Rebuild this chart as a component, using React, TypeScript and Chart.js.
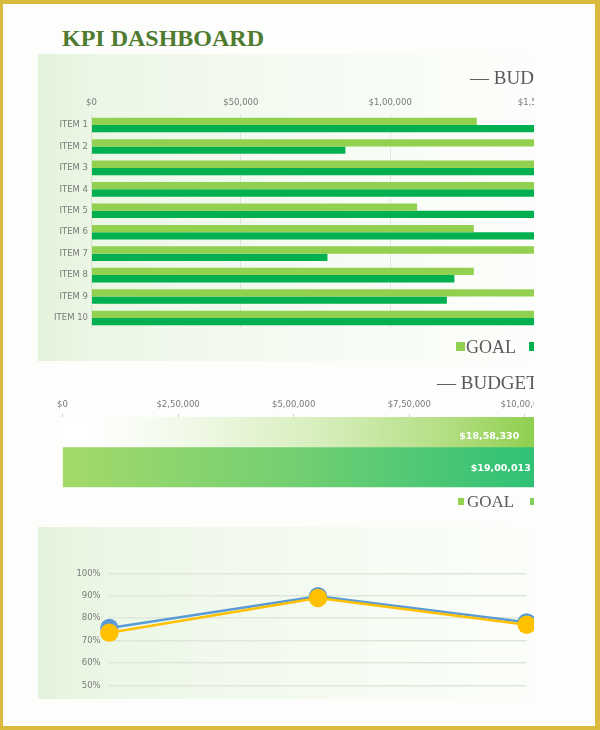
import React, { useEffect, useRef } from "react";
import { Chart, registerables } from "chart.js";

Chart.register(...registerables);

// ---------- DATA ----------
const itemLabels = ["ITEM 1", "ITEM 2", "ITEM 3", "ITEM 4", "ITEM 5", "ITEM 6", "ITEM 7", "ITEM 8", "ITEM 9", "ITEM 10"];
const itemGoal = [129000, 158000, 165000, 172000, 109000, 128000, 160000, 128000, 168000, 175000];
const itemActual = [170000, 85000, 168000, 180000, 162000, 166000, 79000, 121500, 119000, 178000];
const itemTicks = [0, 50000, 100000, 150000];

const budgetLabels = ["BUDGET"];
const budgetGoal = [1858330];
const budgetActual = [1900013];
const budgetTicks = [0, 250000, 500000, 750000, 1000000];

const trendLabels = ["Q1", "Q2", "Q3"];
const trendGoal = [75.6, 89.8, 78.1];
const trendActual = [73.5, 89.0, 77.0];
const trendTicks = [50, 60, 70, 80, 90, 100];

// ---------- HELPERS ----------
function inr(n: number): string {
  const s = Math.round(n).toString();
  if (s.length <= 3) return s;
  const last3 = s.slice(-3);
  const rest = s.slice(0, -3).replace(/\B(?=(\d{2})+(?!\d))/g, ",");
  return rest + "," + last3;
}

const tickFont = { family: "DejaVu Sans", size: 8.5 };
const tickColor = "#7a7a7a";

function ChartCanvas({ make, width, height }: { make: () => any; width: number; height: number }) {
  const ref = useRef<HTMLCanvasElement | null>(null);
  useEffect(() => {
    const chart = new Chart(ref.current as HTMLCanvasElement, make());
    return () => chart.destroy();
  }, []);
  return (
    <canvas
      ref={ref}
      width={width}
      height={height}
      style={{ position: "absolute", left: 0, top: 0, width, height }}
    />
  );
}

// ---------- CHART 1 ----------
function makeItems() {
  return {
    type: "bar",
    data: {
      labels: itemLabels,
      datasets: [
        { label: "GOAL", data: itemGoal, backgroundColor: "#92d050", categoryPercentage: 0.68, barPercentage: 1 },
        { label: "ACTUAL", data: itemActual, backgroundColor: "#00b050", categoryPercentage: 0.68, barPercentage: 1 },
      ],
    },
    options: {
      indexAxis: "y",
      responsive: false,
      animation: false,
      layout: { padding: { left: 0, right: 58.5, top: 0, bottom: 32.3 } },
      plugins: { legend: { display: false }, tooltip: { enabled: false } },
      scales: {
        x: {
          position: "top",
          min: 0,
          max: 150000,
          afterBuildTicks: (s: any) => {
            s.ticks = itemTicks.map((v) => ({ value: v }));
          },
          afterFit: (s: any) => {
            s.height = 60.3;
          },
          grid: { color: "rgba(0,0,0,0.08)", drawTicks: false },
          border: { display: false },
          ticks: { padding: 6.5, font: tickFont, color: tickColor, callback: (v: any) => "$" + inr(Number(v)) },
        },
        y: {
          afterFit: (s: any) => {
            s.width = 53.5;
          },
          grid: { display: false, drawTicks: false },
          border: { display: false },
          ticks: { padding: 3.5, font: { family: "DejaVu Sans", size: 8.5 }, color: tickColor },
        },
      },
    },
  };
}

// ---------- CHART 2 ----------
const budgetLabelPlugin = {
  id: "budgetLabels",
  afterDatasetsDraw(chart: any) {
    const { ctx, chartArea } = chart;
    const insets = [14.8, 3.3];
    const dys = [4.7, 1.3];
    chart.data.datasets.forEach((ds: any, i: number) => {
      const meta = chart.getDatasetMeta(i);
      meta.data.forEach((el: any, j: number) => {
        const v = ds.data[j];
        const x = Math.min(el.x, chartArea.right) - insets[i];
        ctx.save();
        ctx.font = 'bold 9.5px "DejaVu Sans"';
        ctx.fillStyle = "#ffffff";
        ctx.textAlign = "right";
        ctx.textBaseline = "middle";
        ctx.fillText("$" + inr(v), x, el.y + dys[i]);
        ctx.restore();
      });
    });
  },
};

function makeBudget() {
  const goalFill = (c: any) => {
    const area = c.chart.chartArea;
    if (!area) return "#92d050";
    const g = c.chart.ctx.createLinearGradient(area.left, 0, area.right, 0);
    g.addColorStop(0, "rgba(255,255,255,1)");
    g.addColorStop(0.06, "rgba(255,255,255,1)");
    g.addColorStop(0.3, "#eef8e3");
    g.addColorStop(0.55, "#d6eebb");
    g.addColorStop(0.8, "#b6df86");
    g.addColorStop(1, "#8fcf4f");
    return g;
  };
  const actualFill = (c: any) => {
    const area = c.chart.chartArea;
    if (!area) return "#00b050";
    const g = c.chart.ctx.createLinearGradient(area.left, 0, area.right, 0);
    g.addColorStop(0, "#a4da6a");
    g.addColorStop(0.5, "#72cf72");
    g.addColorStop(1, "#2fc176");
    return g;
  };
  return {
    type: "bar",
    data: {
      labels: budgetLabels,
      datasets: [
        { label: "GOAL", data: budgetGoal, backgroundColor: goalFill, barThickness: 30, clip: { left: 0, top: 0, right: 0, bottom: false } },
        { label: "ACTUAL", data: budgetActual, backgroundColor: actualFill, barThickness: 40, clip: { left: 0, top: 0, right: 0, bottom: false } },
      ],
    },
    options: {
      indexAxis: "y",
      responsive: false,
      animation: false,
      layout: { padding: { left: 24.5, right: 63.9, top: 0, bottom: 35 } },
      plugins: { legend: { display: false }, tooltip: { enabled: false } },
      scales: {
        x: {
          position: "top",
          min: 0,
          max: 1020000,
          afterBuildTicks: (s: any) => {
            s.ticks = budgetTicks.map((v) => ({ value: v }));
          },
          afterFit: (s: any) => {
            s.height = 55;
          },
          grid: { drawOnChartArea: false, drawTicks: true, tickLength: 3, color: "#cfcfcf" },
          border: { display: false },
          ticks: { padding: 3.9, font: tickFont, color: tickColor, callback: (v: any) => "$" + inr(Number(v)) },
        },
        y: { display: false },
      },
    },
    plugins: [budgetLabelPlugin],
  };
}

// ---------- CHART 3 ----------
function makeTrend() {
  return {
    type: "line",
    data: {
      labels: trendLabels,
      datasets: [
        {
          label: "ACTUAL",
          data: trendActual,
          borderColor: "#ffc000",
          backgroundColor: "#ffc000",
          borderWidth: 2.5,
          pointRadius: 9.2,
          pointBackgroundColor: "#ffc000",
          pointBorderColor: "#ffc000",
          pointBorderWidth: 0,
          clip: false,
        },
        {
          label: "GOAL",
          data: trendGoal,
          borderColor: "#5b9bd5",
          backgroundColor: "#5b9bd5",
          borderWidth: 2.5,
          pointRadius: 9.2,
          pointBackgroundColor: "#5b9bd5",
          pointBorderColor: "#5b9bd5",
          pointBorderWidth: 0,
          clip: false,
        },
      ],
    },
    options: {
      responsive: false,
      animation: false,
      layout: { padding: { left: 0, right: 71.3, top: 46.3, bottom: 9 } },
      plugins: { legend: { display: false }, tooltip: { enabled: false } },
      scales: {
        x: { display: false, offset: false },
        y: {
          min: 50,
          max: 100,
          afterBuildTicks: (s: any) => {
            s.ticks = trendTicks.map((v) => ({ value: v }));
          },
          afterFit: (s: any) => {
            s.width = 71.3;
          },
          grid: { color: "#dfe7da", lineWidth: 1.5, drawTicks: false },
          border: { display: false },
          ticks: { padding: 8.6, font: { family: "DejaVu Sans", size: 8.5 }, color: tickColor, callback: (v: any) => v + "%" },
        },
      },
    },
  };
}

// ---------- LAYOUT ----------
const legendText: React.CSSProperties = {
  position: "absolute",
  fontFamily: '"Liberation Serif", serif',
  color: "#595959",
  whiteSpace: "nowrap",
  lineHeight: "20px",
};

export default function App() {
  return (
    <div style={{ position: "relative", width: 600, height: 730, background: "#d9ba3d", overflow: "hidden" }}>
      <style>{"body{margin:0}"}</style>
      <div style={{ position: "absolute", left: 3, top: 4, right: 5, bottom: 4, background: "#fdfdfb" }} />

      <div
        style={{
          position: "absolute",
          left: 62,
          top: 26,
          fontFamily: '"Liberation Serif", serif',
          fontWeight: "bold",
          fontSize: 24,
          lineHeight: "24px",
          color: "#4e7b2f",
          whiteSpace: "nowrap",
        }}
      >
        KPI DASHBOARD
      </div>

      {/* Chart 1 */}
      <div
        style={{
          position: "absolute",
          left: 38,
          top: 54,
          width: 496,
          height: 307,
          overflow: "hidden",
          background: "linear-gradient(to right, #e3f2d9 0%, #ecf7e6 12%, #f3faf0 45%, #fdfefc 100%)",
        }}
      >
        <ChartCanvas make={makeItems} width={560} height={307} />
        <div style={{ ...legendText, left: 432, top: 14, fontSize: 19 }}>— BUDGET</div>
        <div style={{ position: "absolute", left: 418, top: 288, width: 9, height: 9, background: "#92d050" }} />
        <div style={{ ...legendText, left: 428, top: 283, fontSize: 18 }}>GOAL</div>
        <div style={{ position: "absolute", left: 491, top: 288, width: 9, height: 9, background: "#00b050" }} />
        <div style={{ ...legendText, left: 503, top: 283, fontSize: 18 }}>ACTUAL</div>
      </div>

      {/* Chart 2 */}
      <div style={{ position: "absolute", left: 38, top: 362, width: 496, height: 150, overflow: "hidden" }}>
        <ChartCanvas make={makeBudget} width={560} height={150} />
        <div style={{ ...legendText, left: 399, top: 11, fontSize: 19 }}>— BUDGET</div>
        <div style={{ position: "absolute", left: 420, top: 136, width: 6, height: 7, background: "#92d050" }} />
        <div style={{ ...legendText, left: 429, top: 130, fontSize: 17 }}>GOAL</div>
        <div style={{ position: "absolute", left: 492, top: 136, width: 6, height: 7, background: "#7fcf5c" }} />
        <div style={{ ...legendText, left: 501, top: 130, fontSize: 17 }}>ACTUAL</div>
      </div>

      {/* Chart 3 */}
      <div
        style={{
          position: "absolute",
          left: 38,
          top: 527,
          width: 496,
          height: 172,
          overflow: "hidden",
          background: "linear-gradient(to right, #e4f3db 0%, #ecf7e6 15%, #f3faef 50%, #fcfefb 100%)",
        }}
      >
        <ChartCanvas make={makeTrend} width={560} height={172} />
      </div>
    </div>
  );
}
